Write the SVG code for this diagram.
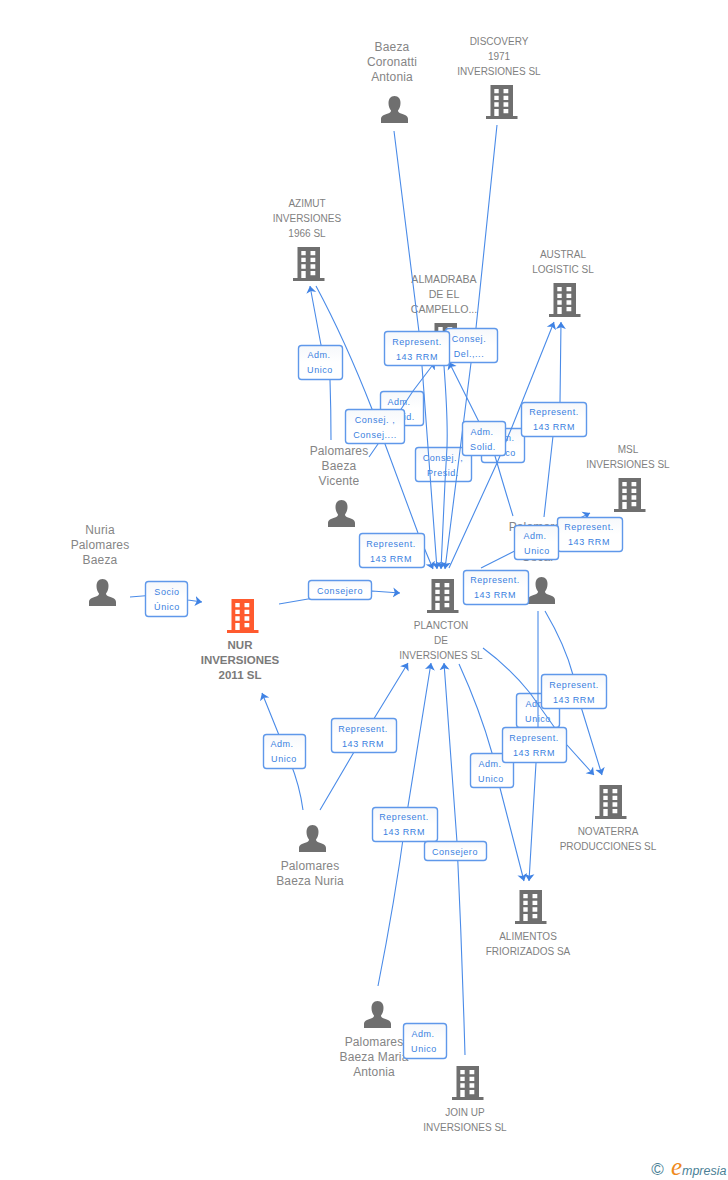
<svg xmlns="http://www.w3.org/2000/svg" width="728" height="1180" viewBox="0 0 728 1180">
<style>
text{font-family:"Liberation Sans",Arial,sans-serif}
.n{font-size:10px;fill:#7f7f7f;text-anchor:middle}
.t{font-size:12px;letter-spacing:.15px;fill:#858585;text-anchor:middle}
.nb{font-size:11.5px;font-weight:bold;fill:#7a7a7a;text-anchor:middle}
.c{fill:none;stroke:#4a8be8;stroke-width:1.1;marker-end:url(#a)}
.b{fill:url(#g);stroke:#5f98ea;stroke-width:1.4}
.l{font-size:9px;letter-spacing:.55px;fill:#3b7fe0;text-anchor:middle}
</style>
<defs>
<linearGradient id="g" x1="0" y1="0" x2="0" y2="1"><stop offset="0" stop-color="#f6f8fb"/><stop offset=".5" stop-color="#fff"/></linearGradient>
<marker id="a" markerUnits="userSpaceOnUse" markerWidth="7" markerHeight="11" refX="7" refY="5.500" orient="auto" viewBox="0 0 7 11"><path d="M0,0.500L7,5.500L0,10.500L1.800,5.500Z" fill="#3f82e4"/></marker>
<symbol id="bd" width="32" height="34" viewBox="0 0 32 34" overflow="visible"><path fill-rule="evenodd" d="M4.500,0H27V31H31.500V34H0V31H4.500ZM8.300,4V8.300H12.700V4ZM17.500,4V8.300H22.300V4ZM8.300,10.700V15H12.700V10.700ZM17.500,10.700V15H22.300V10.700ZM8.300,17.300V21.700H12.700V17.300ZM17.500,17.300V21.700H22.300V17.300ZM8.300,24V31H12.700V24ZM17.500,24V28.300H22.300V24Z"/></symbol>
<symbol id="pr" width="27" height="27" viewBox="0 0 27 27"><path fill="#6f6f6f" d="M13.500,0C17.500,0 19.500,3 19.500,7C19.500,10 18.500,12.500 17,14.500C17,16 18,16.800 20,17.500C24,18.800 27,20 27,23V27H0V23C0,20 3,18.800 7,17.500C9,16.800 10,16 10,14.500C8.500,12.500 7.500,10 7.500,7C7.500,3 9.500,0 13.500,0Z"/></symbol>
</defs>
<g id="node-discovery"><use href="#bd" x="486" y="85" fill="#6f6f6f"/><text class="n"><tspan x="499" y="45">DISCOVERY</tspan><tspan x="499" y="60">1971</tspan><tspan x="499" y="75">INVERSIONES SL</tspan></text></g>
<g id="node-baeza"><use href="#pr" x="381" y="96"/><text class="t"><tspan x="392" y="51">Baeza</tspan><tspan x="392" y="66">Coronatti</tspan><tspan x="392" y="81">Antonia</tspan></text></g>
<g id="node-azimut"><use href="#bd" x="293" y="247" fill="#6f6f6f"/><text class="n"><tspan x="307" y="207">AZIMUT</tspan><tspan x="307" y="222">INVERSIONES</tspan><tspan x="307" y="237">1966 SL</tspan></text></g>
<g id="node-almadraba"><use href="#bd" x="430" y="323" fill="#6f6f6f"/><text class="n" style="font-size:10.600px"><tspan x="444" y="283">ALMADRABA</tspan><tspan x="444" y="298">DE EL</tspan><tspan x="444" y="313">CAMPELLO...</tspan></text></g>
<g id="node-austral"><use href="#bd" x="549" y="283" fill="#6f6f6f"/><text class="n"><tspan x="563" y="258">AUSTRAL</tspan><tspan x="563" y="273">LOGISTIC SL</tspan></text></g>
<g id="node-msl"><use href="#bd" x="614" y="478" fill="#6f6f6f"/><text class="n"><tspan x="628" y="453">MSL</tspan><tspan x="628" y="468">INVERSIONES SL</tspan></text></g>
<g id="node-vicente"><use href="#pr" x="328" y="500"/><text class="t"><tspan x="339" y="455">Palomares</tspan><tspan x="339" y="470">Baeza</tspan><tspan x="339" y="485">Vicente</tspan></text></g>
<g id="node-oscar"><use href="#pr" x="528" y="577"/><text class="t"><tspan x="538" y="531">Palomares</tspan><tspan x="538" y="546">Baeza</tspan><tspan x="538" y="561">Oscar</tspan></text></g>
<g id="node-nuria"><use href="#pr" x="89" y="579"/><text class="t"><tspan x="100" y="534">Nuria</tspan><tspan x="100" y="549">Palomares</tspan><tspan x="100" y="564">Baeza</tspan></text></g>
<g id="node-nur"><use href="#bd" x="227" y="599" fill="#ff5a2e"/><text class="nb"><tspan x="240" y="649">NUR</tspan><tspan x="240" y="664">INVERSIONES</tspan><tspan x="240" y="679">2011 SL</tspan></text></g>
<g id="node-plancton"><use href="#bd" x="427" y="579" fill="#6f6f6f"/><text class="n"><tspan x="441" y="629">PLANCTON</tspan><tspan x="441" y="644">DE</tspan><tspan x="441" y="659">INVERSIONES SL</tspan></text></g>
<g id="node-novaterra"><use href="#bd" x="595" y="785" fill="#6f6f6f"/><text class="n"><tspan x="608" y="835">NOVATERRA</tspan><tspan x="608" y="850">PRODUCCIONES SL</tspan></text></g>
<g id="node-alimentos"><use href="#bd" x="515" y="890" fill="#6f6f6f"/><text class="n"><tspan x="528" y="940">ALIMENTOS</tspan><tspan x="528" y="955">FRIORIZADOS SA</tspan></text></g>
<g id="node-nuria2"><use href="#pr" x="299" y="825"/><text class="t"><tspan x="310" y="870">Palomares</tspan><tspan x="310" y="885">Baeza Nuria</tspan></text></g>
<g id="node-maria"><use href="#pr" x="364" y="1001"/><text class="t"><tspan x="374" y="1046">Palomares</tspan><tspan x="374" y="1061">Baeza Maria</tspan><tspan x="374" y="1076">Antonia</tspan></text></g>
<g id="node-joinup"><use href="#bd" x="452" y="1066" fill="#6f6f6f"/><text class="n"><tspan x="465" y="1116">JOIN UP</tspan><tspan x="465" y="1131">INVERSIONES SL</tspan></text></g>
<g id="labels-back">
<g><rect class="b" x="380.500" y="391.500" width="43" height="34" rx="3"/><text class="l"><tspan x="399" y="405">Adm.</tspan><tspan x="402" y="420">Solid.</tspan></text></g>
<g><rect class="b" x="481.500" y="428.500" width="43" height="34" rx="3"/><text class="l"><tspan x="503" y="441">Adm.</tspan><tspan x="503" y="456">Unico</tspan></text></g>
<g><rect class="b" x="415.500" y="447.500" width="56" height="34" rx="3"/><text class="l"><tspan x="443" y="461">Consej. ,</tspan><tspan x="443" y="476">Presid.</tspan></text></g>
<g><rect class="b" x="516.500" y="693.500" width="43" height="34" rx="3"/><text class="l"><tspan x="537" y="707">Adm.</tspan><tspan x="538" y="722">Unico</tspan></text></g>
</g>
<g id="connectors">
<path class="c" d="M130,597L167,594L188,600L202,602"/>
<path class="c" d="M279,604L308,599L372,591L400,593"/>
<path class="c" d="M303,810Q299,780 285,750L262,693"/>
<path class="c" d="M320,810L364,735L408,663"/>
<path class="c" d="M378,986Q395,900 405,825L431,663"/>
<path class="c" d="M465,1055Q462,950 457,842L444,663"/>
<path class="c" d="M459,664Q480,710 492,753L500,788L524,881"/>
<path class="c" d="M538,611L538,727L536,763L529,881"/>
<path class="c" d="M483,648Q510,668 530,693L567,745L594,775"/>
<path class="c" d="M545,611Q565,645 573,675L582,710L602,775"/>
<path class="c" d="M481,568L590,513"/>
<path class="c" d="M544,517L553,436L560,402L561,322"/>
<path class="c" d="M449,568L497,463L512,427L554,322"/>
<path class="c" d="M513,516Q505,490 495,456L478,420L449,362"/>
<path class="c" d="M394,131L419,332L422,366L437,569"/>
<path class="c" d="M497,125L476,328L471,363L445,569"/>
<path class="c" d="M331,440Q331,410 330,380L321,345L310,286"/>
<path class="c" d="M316,286Q345,340 372,409L385,444L418,533L433,569"/>
<path class="c" d="M369,457L378,444L413,391L435,362"/>
<path class="c" d="M444,366Q448,420 447,447L445,482L441,569"/>
<path class="c" d="M370,545L420,566"/>
</g>
<g id="labels-front">
<g><rect class="b" x="145.500" y="581.500" width="42" height="35" rx="3"/><text class="l"><tspan x="167" y="595">Socio</tspan><tspan x="167" y="610">Único</tspan></text></g>
<g><rect class="b" x="308.500" y="580.500" width="63" height="19" rx="3"/><text class="l"><tspan x="340" y="594">Consejero</tspan></text></g>
<g><rect class="b" x="298.500" y="345.500" width="44" height="34" rx="3"/><text class="l"><tspan x="319" y="358">Adm.</tspan><tspan x="320" y="373">Unico</tspan></text></g>
<g><rect class="b" x="345.500" y="409.500" width="59" height="34" rx="3"/><text class="l"><tspan x="375" y="423">Consej. ,</tspan><tspan x="375" y="438">Consej....</tspan></text></g>
<g><rect class="b" x="445.500" y="328.500" width="52" height="34" rx="3"/><text class="l"><tspan x="469" y="342">Consej.</tspan><tspan x="469" y="357">Del.,...</tspan></text></g>
<g><rect class="b" x="384.500" y="331.500" width="65" height="34" rx="3"/><text class="l"><tspan x="417" y="345">Represent.</tspan><tspan x="417" y="360">143 RRM</tspan></text></g>
<g><rect class="b" x="462.500" y="421.500" width="43" height="34" rx="3"/><text class="l"><tspan x="482" y="435">Adm.</tspan><tspan x="483" y="450">Solid.</tspan></text></g>
<g><rect class="b" x="521.500" y="402.500" width="65" height="34" rx="3"/><text class="l"><tspan x="554" y="415">Represent.</tspan><tspan x="554" y="430">143 RRM</tspan></text></g>
<g><rect class="b" x="557.500" y="517.500" width="65" height="34" rx="3"/><text class="l"><tspan x="589" y="530">Represent.</tspan><tspan x="589" y="545">143 RRM</tspan></text></g>
<g><rect class="b" x="514.500" y="525.500" width="44" height="34" rx="3"/><text class="l"><tspan x="535" y="539">Adm.</tspan><tspan x="537" y="554">Unico</tspan></text></g>
<g><rect class="b" x="463.500" y="570.500" width="65" height="34" rx="3"/><text class="l"><tspan x="495" y="583">Represent.</tspan><tspan x="495" y="598">143 RRM</tspan></text></g>
<g><rect class="b" x="359.500" y="533.500" width="65" height="34" rx="3"/><text class="l"><tspan x="391" y="547">Represent.</tspan><tspan x="391" y="562">143 RRM</tspan></text></g>
<g><rect class="b" x="331.500" y="718.500" width="65" height="34" rx="3"/><text class="l"><tspan x="363" y="732">Represent.</tspan><tspan x="363" y="747">143 RRM</tspan></text></g>
<g><rect class="b" x="263.500" y="734.500" width="42" height="34" rx="3"/><text class="l"><tspan x="282" y="747">Adm.</tspan><tspan x="284" y="762">Unico</tspan></text></g>
<g><rect class="b" x="372.500" y="807.500" width="65" height="34" rx="3"/><text class="l"><tspan x="404" y="820">Represent.</tspan><tspan x="404" y="835">143 RRM</tspan></text></g>
<g><rect class="b" x="424.500" y="841.500" width="62" height="19" rx="3"/><text class="l"><tspan x="455" y="855">Consejero</tspan></text></g>
<g><rect class="b" x="403.500" y="1023.500" width="43" height="35" rx="3"/><text class="l"><tspan x="423" y="1037">Adm.</tspan><tspan x="424" y="1052">Unico</tspan></text></g>
<g><rect class="b" x="470.500" y="753.500" width="43" height="34" rx="3"/><text class="l"><tspan x="490" y="767">Adm.</tspan><tspan x="491" y="782">Unico</tspan></text></g>
<g><rect class="b" x="541.500" y="674.500" width="65" height="34" rx="3"/><text class="l"><tspan x="574" y="688">Represent.</tspan><tspan x="574" y="703">143 RRM</tspan></text></g>
<g><rect class="b" x="502.500" y="727.500" width="64" height="35" rx="3"/><text class="l"><tspan x="534" y="741">Represent.</tspan><tspan x="534" y="756">143 RRM</tspan></text></g>
</g>
<g id="copyright"><text x="657.500" y="1175" font-size="17" fill="#4b7f96" text-anchor="middle">©</text><text x="671" y="1175" font-size="25" font-style="italic" fill="#ef8a1d" style="font-family:'Liberation Serif',serif">e</text><text x="682" y="1175" font-size="12.500" font-style="italic" fill="#4b7f96">mpresia</text></g>
</svg>
